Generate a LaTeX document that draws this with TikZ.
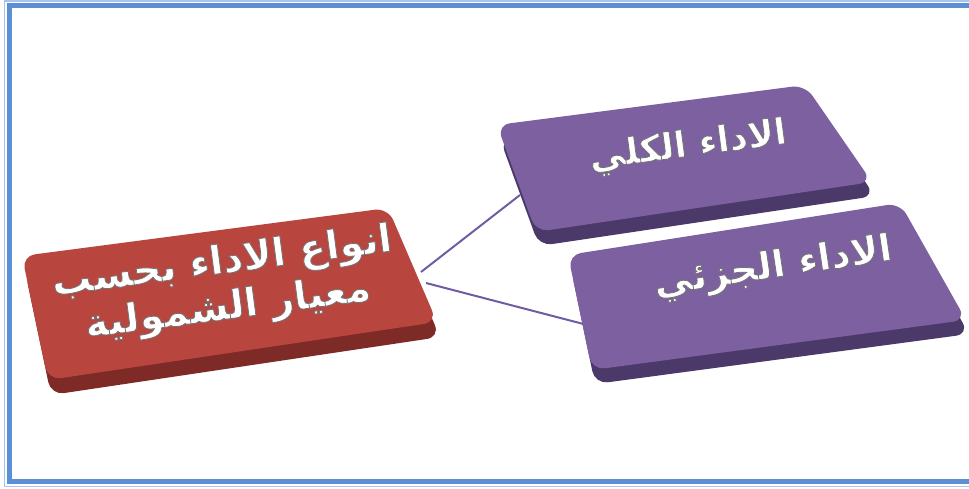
\documentclass[tikz,border=0pt]{standalone}
\usepackage{fontspec}
\TeXXeTstate=1
\newfontfamily\arabicfont[Script=Arabic]{DejaVu Sans}
\definecolor{framebl}{HTML}{5B8FD6}
\definecolor{framelt}{HTML}{A9C4EA}
\definecolor{redtop}{HTML}{B8463F}
\definecolor{redside}{HTML}{7E2A26}
\definecolor{purtop}{HTML}{7D60A0}
\definecolor{purside}{HTML}{4B3969}
\definecolor{linkcol}{HTML}{6F5CA3}
% bold white text with a grey outline (embossed look), one text only
\newcommand\embossline[2]{\scalebox{#1}[1]{\special{pdf:literal direct 2 Tr 0.8 w 0.45 G}#2\special{pdf:literal direct 0 Tr}}}
\begin{document}
\begin{tikzpicture}[x=1pt,y=-1pt,
  slabtop/.style={rounded corners=13pt},
  slabside/.style={rounded corners=13pt},
  link/.style={draw=linkcol,line width=2pt},
  labeltext/.style={text=white,align=center,inner sep=0pt}
]
\useasboundingbox (0,0) rectangle (969,488);
% frame
\draw[framelt,line width=1.2pt] (969,1) -- (4.5,1) -- (4.5,486.5) -- (969,486.5);
\draw[framebl,line width=4.6pt] (969,5.5) -- (9.5,5.5) -- (9.5,481.5) -- (969,481.5);

% anchor coordinates for connectors
\coordinate (rootout1) at (421,272);
\coordinate (rootout2) at (426,283);
\coordinate (totalin) at (520,195);
\coordinate (partin) at (595,327);

% connectors (drawn under the slabs)
\draw[link] (rootout1) -- (totalin);
\draw[link] (rootout2) -- (partin);

% red slab
\fill[redside,slabside] (25,271) -- (391,223) -- (440,337) -- (51,395) -- cycle;
\fill[redtop,slabtop] (22,256) -- (388,208) -- (437,322) -- (48,380) -- cycle;
% purple slab 1
\fill[purside,slabside] (500,139) -- (808,99) -- (875,196) -- (539,246) -- cycle;
\fill[purtop,slabtop] (497,125) -- (805,85) -- (872,182) -- (536,232) -- cycle;
% purple slab 2
\fill[purside,slabside] (571,269) -- (903,217) -- (969,334) -- (595,384) -- cycle;
\fill[purtop,slabtop] (568,255) -- (900,203) -- (966,320) -- (592,370) -- cycle;

% texts
\node[labeltext,rotate=7.5,font=\arabicfont\bfseries\fontsize{39}{46}\selectfont] (root) at (225,286)
  {\embossline{1.01}{\beginR انواع الاداء بحسب\endR}\\\embossline{1.01}{\beginR معيار  الشمولية\endR}};

\node[labeltext,rotate=7.5,font=\arabicfont\bfseries\fontsize{36}{44}\selectfont] (total) at (688,147)
  {\embossline{1.0}{\beginR الاداء الكلي\endR}};

\node[labeltext,rotate=8.5,font=\arabicfont\bfseries\fontsize{37}{44}\selectfont] (part) at (773,268)
  {\embossline{1.04}{\beginR الاداء الجزئي\endR}};
\end{tikzpicture}
\end{document}
